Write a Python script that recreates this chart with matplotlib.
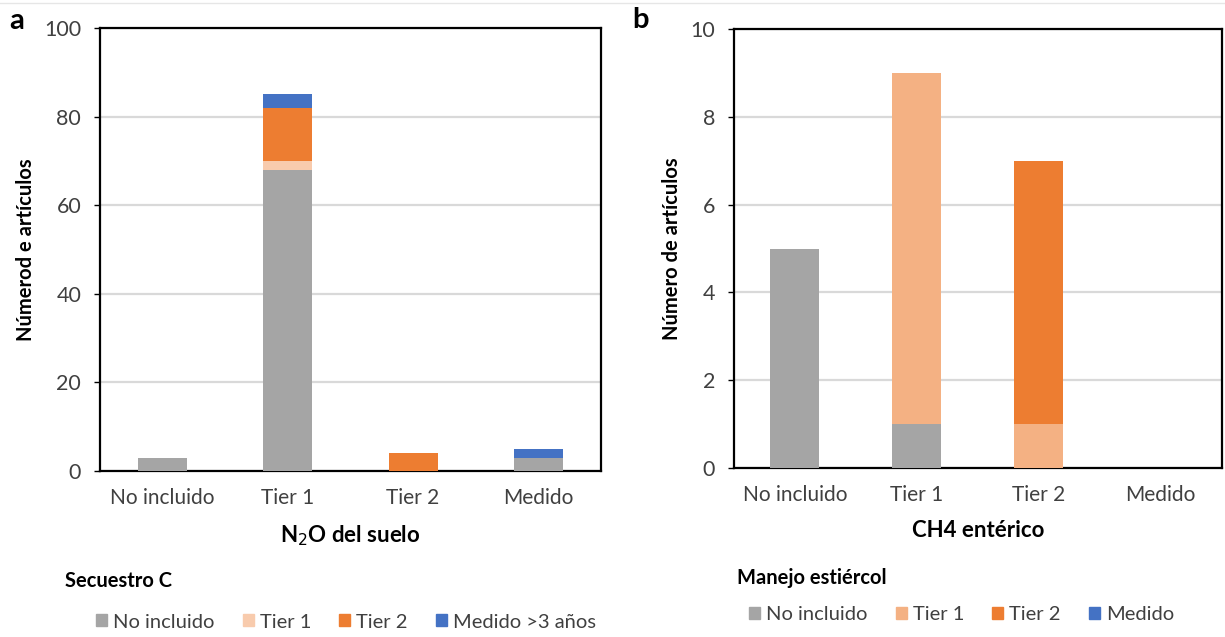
import matplotlib
matplotlib.use("Agg")
import matplotlib.pyplot as plt
from matplotlib.patches import Patch
from matplotlib.lines import Line2D

plt.rcParams['font.family'] = ['Lato', 'DejaVu Sans']

categories = ["No incluido", "Tier 1", "Tier 2", "Medido"]

# Panel a: N2O del suelo, stacked by Secuestro C
a_series = ["No incluido", "Tier 1", "Tier 2", "Medido >3 años"]
a_no_incluido = [3, 68, 0, 3]
a_tier1 = [0, 2, 0, 0]
a_tier2 = [0, 12, 4, 0]
a_medido = [0, 3, 0, 2]

# Panel b: CH4 entérico, stacked by Manejo estiércol
b_series = ["No incluido", "Tier 1", "Tier 2", "Medido"]
b_no_incluido = [5, 1, 0, 0]
b_tier1 = [0, 8, 1, 0]
b_tier2 = [0, 0, 6, 0]
b_medido = [0, 0, 0, 0]

grey = "#A5A5A5"
light_a = "#F8CBAD"
light_b = "#F4B183"
orange = "#ED7D31"
blue = "#4472C4"
txt = "#404040"

fig = plt.figure(figsize=(12.25, 6.37), dpi=100)
ax1 = fig.add_axes([0.0816, 0.2606, 0.409, 0.6954])
ax2 = fig.add_axes([0.599, 0.2653, 0.3984, 0.689])

# faint frame line at the top of the image
fig.add_artist(Line2D([0, 1], [1 - 3 / 637, 1 - 3 / 637], transform=fig.transFigure,
                      color="#E6E6E6", linewidth=1))

def stacked(ax, series_vals, colors, width):
    x = range(len(categories))
    bottom = [0] * len(categories)
    for vals, c in zip(series_vals, colors):
        ax.bar(x, vals, width, bottom=bottom, color=c, zorder=3)
        bottom = [b + v for b, v in zip(bottom, vals)]

stacked(ax1, [a_no_incluido, a_tier1, a_tier2, a_medido], [grey, light_a, orange, blue], 0.39)
stacked(ax2, [b_no_incluido, b_tier1, b_tier2, b_medido], [grey, light_b, orange, blue], 0.40)

for ax, ymax, step in [(ax1, 100, 20), (ax2, 10, 2)]:
    ax.set_xlim(-0.5, 3.5)
    ax.set_ylim(0, ymax)
    ax.set_yticks(range(0, ymax + 1, step))
    ax.set_xticks(range(len(categories)))
    ax.set_xticklabels(categories, fontsize=15, color=txt)
    ax.tick_params(axis='x', length=0, pad=12)
    ax.tick_params(axis='y', labelsize=15.5, labelcolor=txt, length=4.5, width=1, pad=9)
    ax.grid(axis='y', color="#D9D9D9", linewidth=1.6, zorder=0)
    for s in ax.spines.values():
        s.set_linewidth(1.6)
        s.set_color("black")

ax1.set_ylabel("Númerod e artículos", fontsize=14.5, fontweight='bold', labelpad=6)
ax2.set_ylabel("Número de artículos", fontsize=14.5, fontweight='bold', labelpad=6)
ax1.set_xlabel("N$_2$O del suelo", fontsize=16, fontweight='bold', labelpad=11)
ax2.set_xlabel("CH4 entérico", fontsize=16, fontweight='bold', labelpad=11)

fig.text(17 / 1225, 1 - 21 / 637, "a", fontsize=21, fontweight='bold', va='center', ha='center')
fig.text(641 / 1225, 1 - 20 / 637, "b", fontsize=21, fontweight='bold', va='center', ha='center')

fig.text(65 / 1225, 1 - 581 / 637, "Secuestro C", fontsize=14.5, fontweight='bold', va='center')
fig.text(737 / 1225, 1 - 578 / 637, "Manejo estiércol", fontsize=14.5, fontweight='bold', va='center')

ha = [Patch(color=c) for c in [grey, light_a, orange, blue]]
hb = [Patch(color=c) for c in [grey, light_b, orange, blue]]
leg_kw = dict(ncol=4, frameon=False, fontsize=14.5, handlelength=0.55, handleheight=0.55,
              handletextpad=0.3, columnspacing=1.4, labelcolor=txt, borderpad=0,
              borderaxespad=0)
fig.legend(ha, a_series, loc='center left', bbox_to_anchor=(96 / 1225, 1 - 622 / 637), **leg_kw)
fig.legend(hb, b_series, loc='center left', bbox_to_anchor=(749 / 1225, 1 - 615 / 637), **leg_kw)

fig.savefig("out.png", dpi=100)
